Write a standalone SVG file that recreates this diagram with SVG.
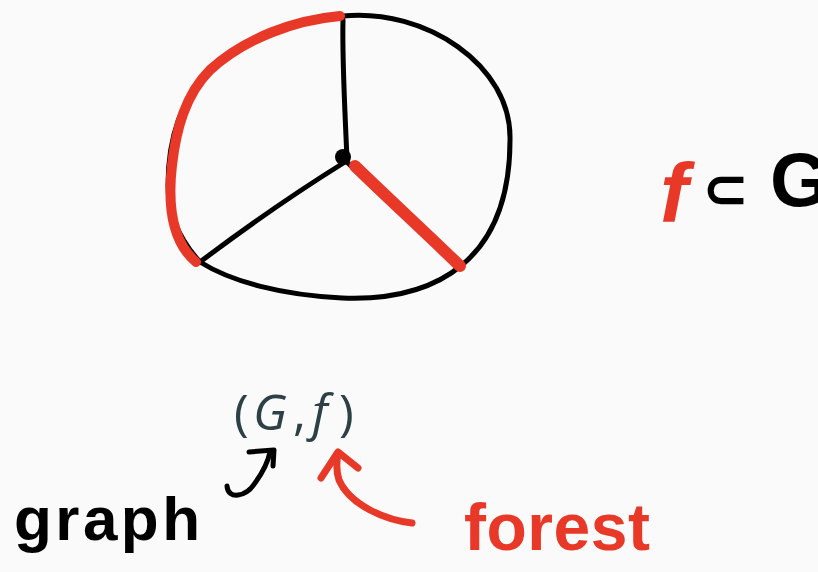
<svg xmlns="http://www.w3.org/2000/svg" width="818" height="572" viewBox="0 0 818 572">
<style>
.ink{fill:none;stroke:#000;stroke-width:5;stroke-linecap:round;stroke-linejoin:round}
.red{fill:none;stroke:#e83828;stroke-linecap:round;stroke-linejoin:round}
.hand{font-family:"Liberation Sans","DejaVu Sans",sans-serif;font-weight:bold}
.math{font-family:"Open Sans","Noto Sans",sans-serif;font-size:50px;fill:#2d4045}
</style>
<rect width="818" height="572" fill="#fafafa"/>
<g id="graph-drawing">
<path class="ink" d="M343,16 C425,8 512,65 510,140 C510,200 492,240 462,265 C432,290 392,300 342,298 C282,295 232,282 200,262 C180,240 168,215 168,185 C168,140 180,100 210,70 C245,38 295,20 343,16 Z"/>
<path class="ink" d="M347,160 C345,110 342,60 343,20"/>
<path class="ink" d="M345,162 C300,190 245,228 200,262"/>
<path class="ink" d="M347,162 C385,200 425,235 462,266"/>
<circle cx="343" cy="157" r="8" fill="#000"/>
<path class="red" stroke-width="10" d="M340,16 C295,20 245,38 210,70 C185,95 176,130 172,165 C168,200 170,240 196,262"/>
<path class="red" stroke-width="12" d="M355,166 C390,200 425,232 460,266"/>
</g>
<g id="subset-label">
<text class="hand" x="660" y="222" font-size="84" font-style="italic" fill="#e83828">f</text>
<text class="hand" x="702" y="208" font-size="56" fill="#000">⊂</text>
<text class="hand" x="770" y="206" font-size="76" fill="#000">G</text>
</g>
<g id="pair-label">
<text class="math" y="430"><tspan x="234">(</tspan><tspan x="253" font-style="italic">G</tspan><tspan x="293">,</tspan><tspan x="312" font-style="italic">f</tspan><tspan x="339">)</tspan></text>
</g>
<g id="graph-label">
<text class="hand" x="14" y="540" font-size="62" fill="#000" textLength="186" lengthAdjust="spacing">graph</text>
</g>
<g id="forest-label">
<text class="hand" x="464" y="550" font-size="66" fill="#e83828" textLength="186" lengthAdjust="spacing">forest</text>
</g>
<g id="connectors">
<path class="ink" stroke-width="8" d="M227,486 C228,500 246,497 255,483 C263,472 268,462 270,452"/>
<path class="ink" stroke-width="8" d="M249,452 L274,450 L273,466"/>
<path class="red" stroke-width="7" d="M412,523 C385,520 350,505 339,480 C335,468 337,460 338,453"/>
<path class="red" stroke-width="7" d="M321,478 L338,452 L358,468"/>
</g>
</svg>
